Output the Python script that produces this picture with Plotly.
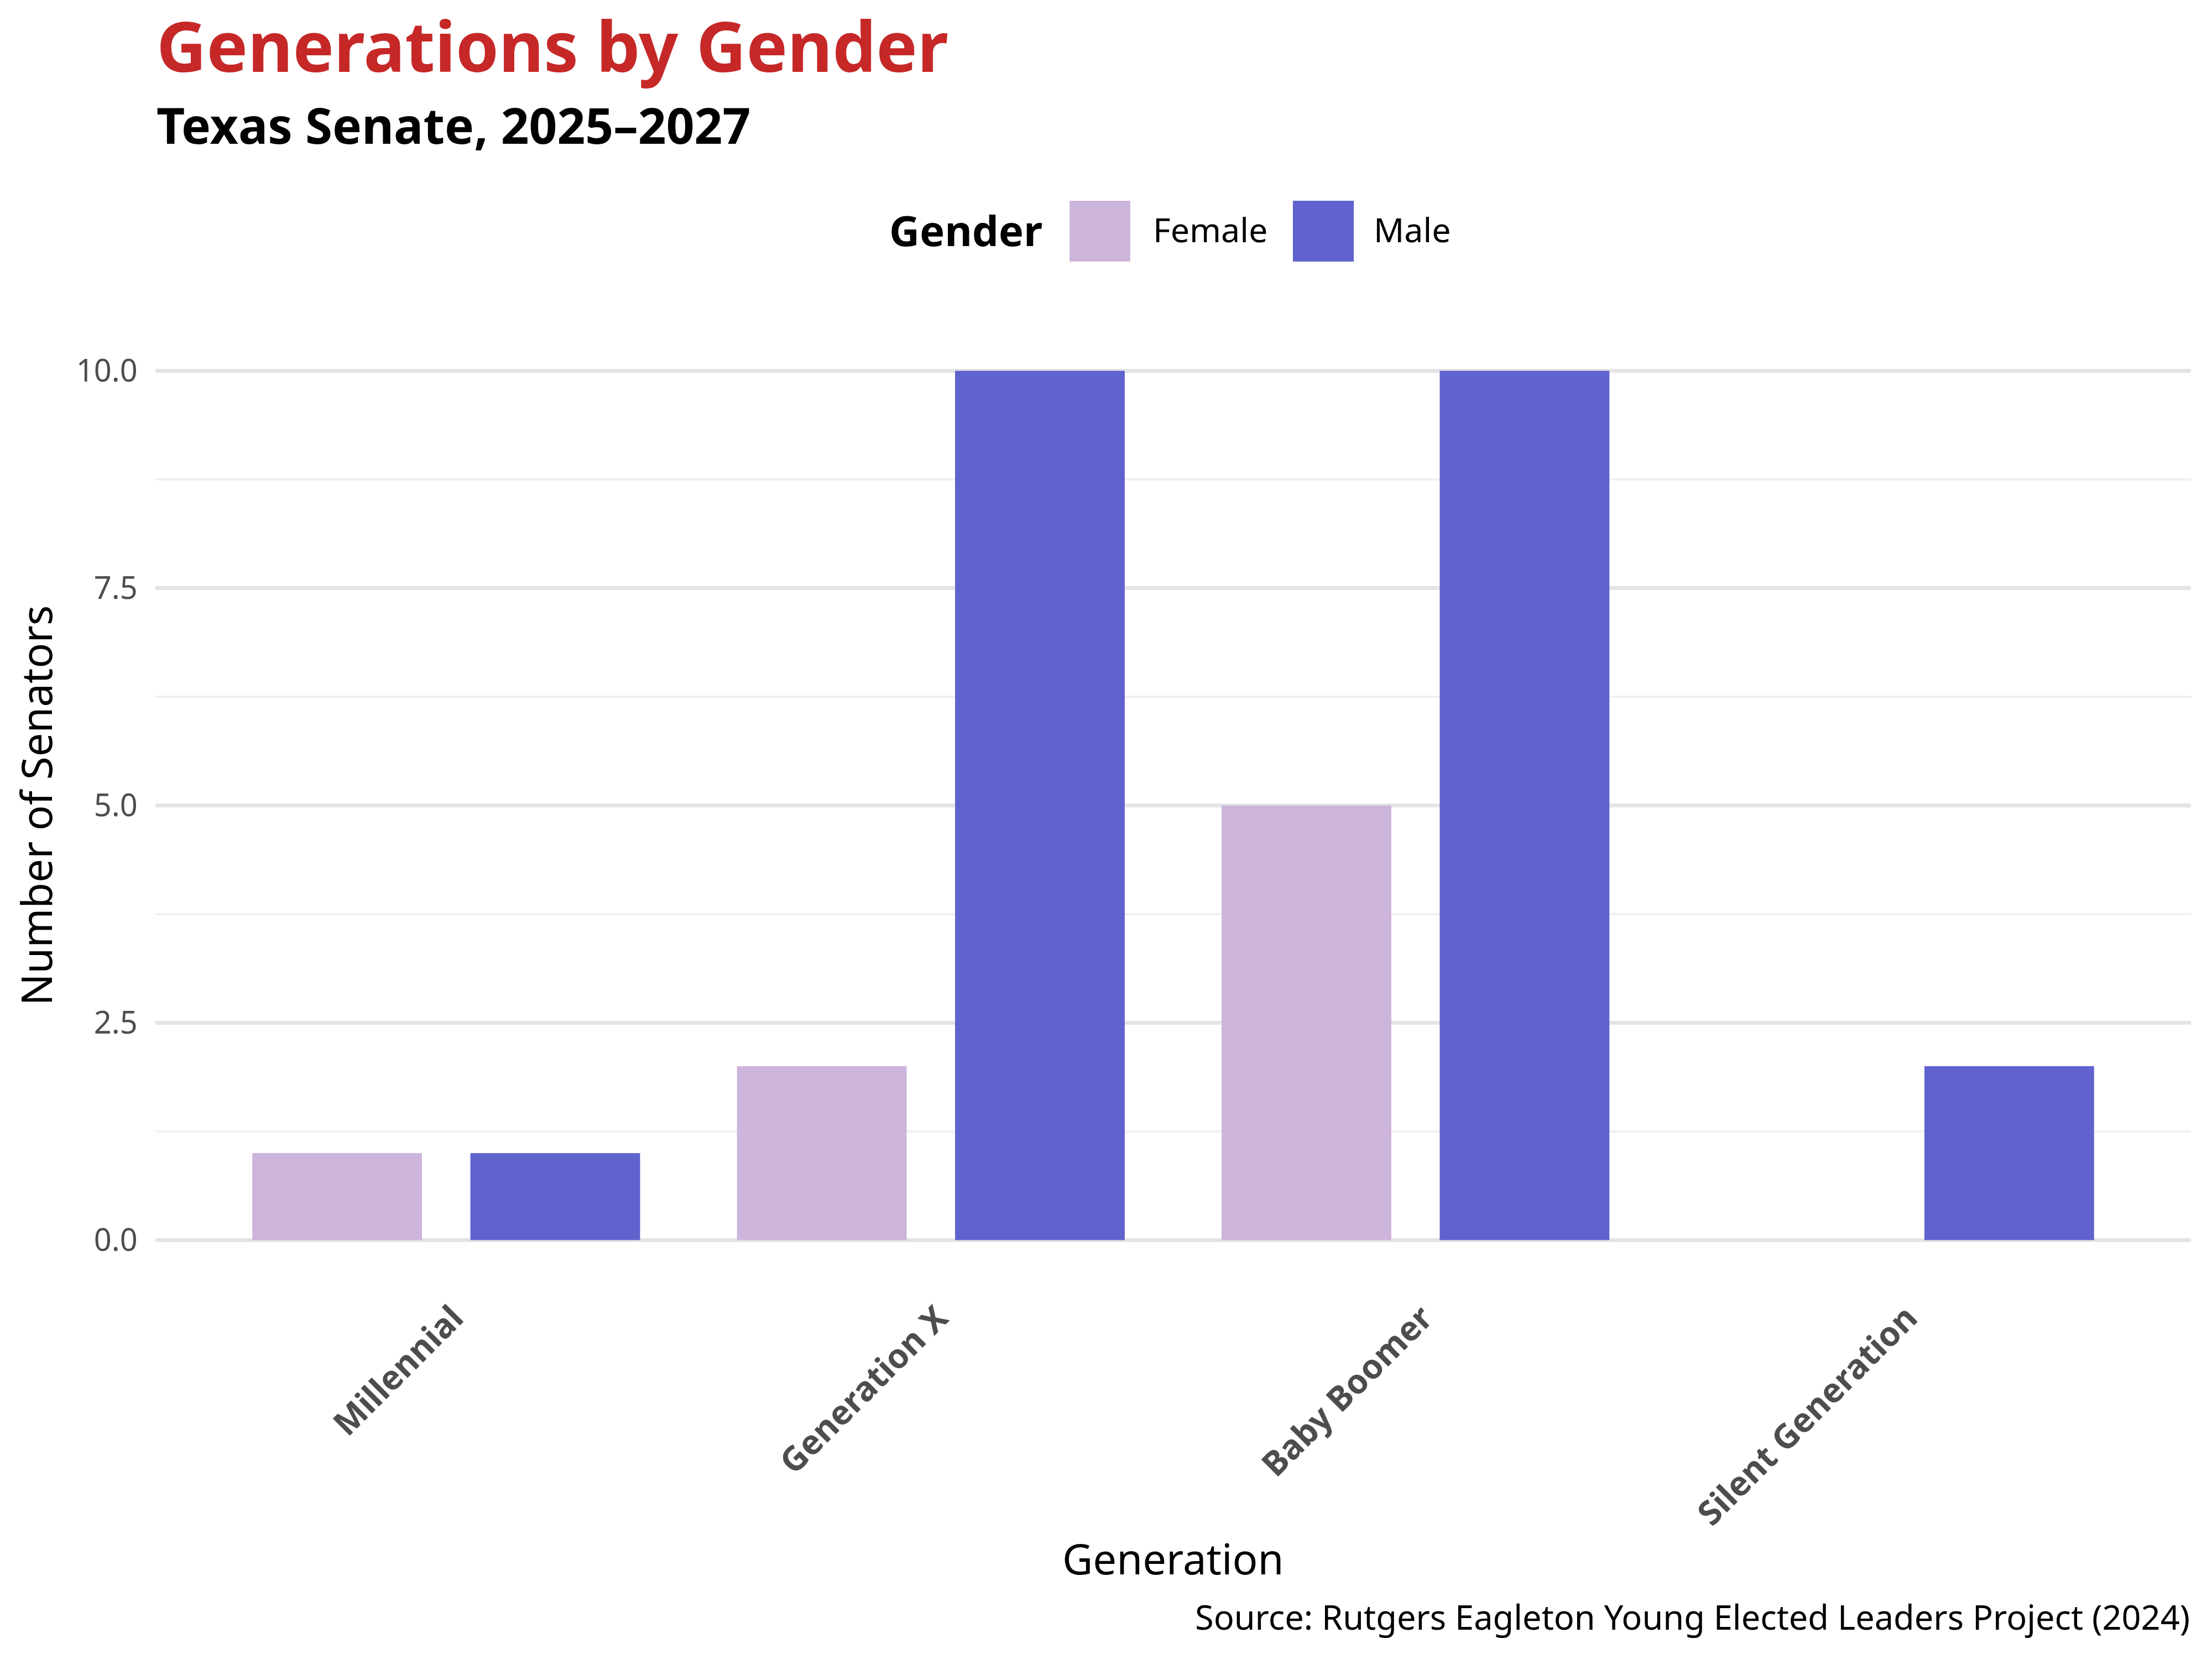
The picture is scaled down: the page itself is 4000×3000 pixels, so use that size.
import plotly.graph_objects as go

generations = ["Millennial", "Generation X", "Baby Boomer", "Silent Generation"]
female = [1, 2, 5, 0]
male = [1, 10, 10, 2]
y_ticks = [0, 2.5, 5, 7.5, 10]

FEMALE_C = "#CDB4DB"
MALE_C = "#6062CD"
FONT = "Noto Sans"

fig = go.Figure()
fig.add_trace(go.Bar(x=generations, y=female, name="Female", marker=dict(color=FEMALE_C, line=dict(width=0))))
fig.add_trace(go.Bar(x=generations, y=male, name="Male", marker=dict(color=MALE_C, line=dict(width=0))))

fig.update_layout(
    width=4000, height=3000,
    margin=dict(l=273, r=46, t=584, b=687),
    paper_bgcolor="white", plot_bgcolor="white",
    barmode="group", bargap=0.1, bargroupgap=0.222,
    showlegend=False,
    font=dict(family=FONT, color="black"),
)
fig.update_xaxes(
    type="category", range=[-0.6, 3.6], showgrid=False, zeroline=False, showline=False,
    tickangle=-45, tickfont=dict(family=FONT, size=61, color="#4D4D4D", weight="bold"),
    ticks="outside", ticklen=1, tickcolor="rgba(0,0,0,0)", ticklabelshift=13,
)
fig.update_yaxes(
    range=[-0.5, 10.5], tickvals=y_ticks, tickformat=".1f",
    showgrid=True, gridcolor="#E4E4E4", gridwidth=7, zeroline=False, showline=False,
    minor=dict(dtick=1.25, tick0=0, showgrid=True, gridcolor="#F0F0F0", gridwidth=3.5),
    tickfont=dict(family=FONT, size=56, color="#4D4D4D"),
    ticks="outside", ticklen=20, tickcolor="rgba(0,0,0,0)",
)

ann = []
ann.append(dict(text="Generations by Gender", x=0, y=1.2955, xref="paper", yref="paper",
                xanchor="left", yanchor="middle", showarrow=False,
                font=dict(family=FONT, size=125, color="#C62828", weight="bold")))
ann.append(dict(text="Texas Senate, 2025–2027", x=0, y=1.2117, xref="paper", yref="paper",
                xanchor="left", yanchor="middle", showarrow=False,
                font=dict(family=FONT, size=89, color="black", weight="bold")))
ann.append(dict(text="Gender", x=0.4363, y=1.1018, xref="paper", yref="paper",
                xanchor="right", yanchor="middle", showarrow=False,
                font=dict(family=FONT, size=76, color="black", weight="bold")))
ann.append(dict(text="Female", x=0.4895, y=1.1024, xref="paper", yref="paper",
                xanchor="left", yanchor="middle", showarrow=False,
                font=dict(family=FONT, size=61, color="black")))
ann.append(dict(text="Male", x=0.5979, y=1.1024, xref="paper", yref="paper",
                xanchor="left", yanchor="middle", showarrow=False,
                font=dict(family=FONT, size=61, color="black")))
ann.append(dict(text="Generation", x=0.5, y=-0.2869, xref="paper", yref="paper",
                xanchor="center", yanchor="middle", showarrow=False,
                font=dict(family=FONT, size=76, color="black")))
ann.append(dict(text="Number of Senators", x=(64 - 281) / 3681, y=0.5, xref="paper", yref="paper",
                xanchor="center", yanchor="middle", showarrow=False, textangle=-90,
                font=dict(family=FONT, size=76, color="black")))
ann.append(dict(text="Source: Rutgers Eagleton Young Elected Leaders Project (2024)", x=1, y=-0.3482,
                xref="paper", yref="paper", xanchor="right", yanchor="middle", showarrow=False,
                font=dict(family=FONT, size=61.3, color="black")))
fig.update_layout(annotations=ann)

shapes = [
    dict(type="rect", xref="paper", yref="paper", x0=0.4491, x1=0.4789, y0=1.0688, y1=1.1325,
         fillcolor=FEMALE_C, line=dict(width=0)),
    dict(type="rect", xref="paper", yref="paper", x0=0.5588, x1=0.5887, y0=1.0688, y1=1.1325,
         fillcolor=MALE_C, line=dict(width=0)),
]
fig.update_layout(shapes=shapes)

fig.write_html("out.html")
